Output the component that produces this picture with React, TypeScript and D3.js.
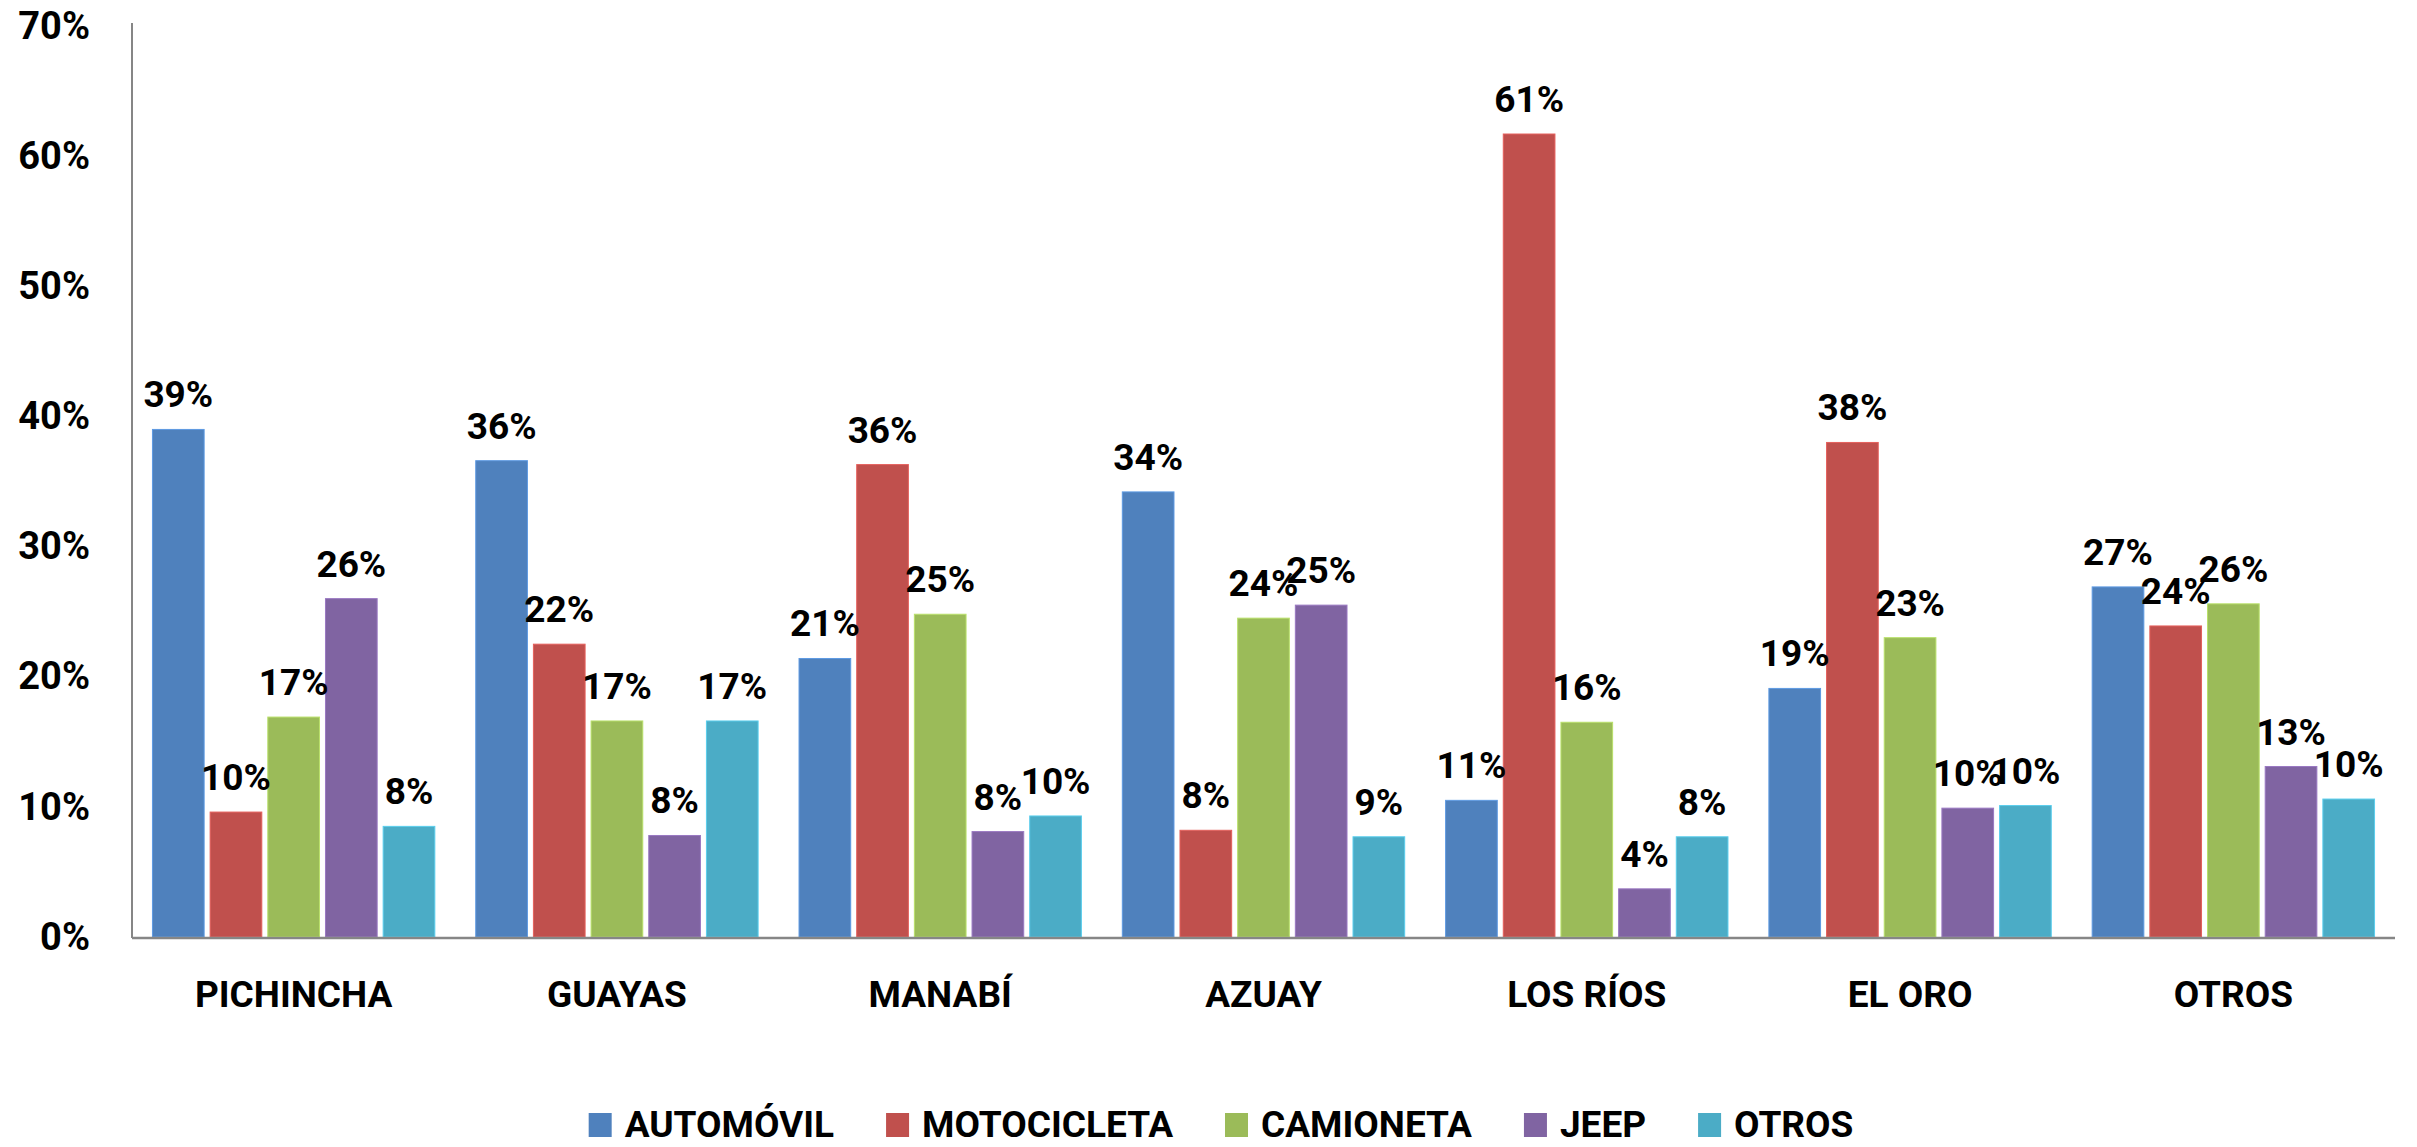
import { useEffect, useRef } from "react"
import * as d3 from "d3"

const W = 2417
const H = 1147

const PROVINCES = ["PICHINCHA", "GUAYAS", "MANABÍ", "AZUAY", "LOS RÍOS", "EL ORO", "OTROS"]
const SERIES = ["AUTOMÓVIL", "MOTOCICLETA", "CAMIONETA", "JEEP", "OTROS"]

// bar heights (percent)
const AUTOMOVIL = [39.0, 36.6, 21.4, 34.2, 10.5, 19.1, 26.9]
const MOTOCICLETA = [9.6, 22.5, 36.3, 8.2, 61.7, 38.0, 23.9]
const CAMIONETA = [16.9, 16.6, 24.8, 24.5, 16.5, 23.0, 25.6]
const JEEP = [26.0, 7.8, 8.1, 25.5, 3.7, 9.9, 13.1]
const OTROS = [8.5, 16.6, 9.3, 7.7, 7.7, 10.1, 10.6]

// data labels as printed on the chart
const AUTOMOVIL_LBL = ["39%", "36%", "21%", "34%", "11%", "19%", "27%"]
const MOTOCICLETA_LBL = ["10%", "22%", "36%", "8%", "61%", "38%", "24%"]
const CAMIONETA_LBL = ["17%", "17%", "25%", "24%", "16%", "23%", "26%"]
const JEEP_LBL = ["26%", "8%", "8%", "25%", "4%", "10%", "13%"]
const OTROS_LBL = ["8%", "17%", "10%", "9%", "8%", "10%", "10%"]

const Y_TICKS = [0, 0.1, 0.2, 0.3, 0.4, 0.5, 0.6, 0.7]

const COLORS = ["#4f81bd", "#c0504d", "#9bbb59", "#8064a2", "#4bacc6"]

const FONT = "Roboto, 'Liberation Sans', sans-serif"

export default function App() {
  const svgRef = useRef<SVGSVGElement>(null)

  useEffect(() => {
    if (!svgRef.current) return
    const svg = d3.select(svgRef.current)
    svg.selectAll("*").remove()

    const values = [AUTOMOVIL, MOTOCICLETA, CAMIONETA, JEEP, OTROS]
    const labels = [AUTOMOVIL_LBL, MOTOCICLETA_LBL, CAMIONETA_LBL, JEEP_LBL, OTROS_LBL]

    const left = 132
    const right = 2395
    const base = 937

    const x0 = d3.scaleBand<string>().domain(PROVINCES).range([left, right]).paddingInner(0.108).paddingOuter(0.054)
    const x1 = d3.scaleBand<string>().domain(SERIES).range([0, x0.bandwidth()]).paddingInner(0.104).paddingOuter(0.052)
    const y = d3.scaleLinear().domain([0, 0.7]).range([base, 26])

    // bars
    const rows = PROVINCES.flatMap((p, i) =>
      SERIES.map((s, j) => ({ p, s, j, v: values[j][i] / 100, label: labels[j][i] }))
    )

    const g = svg.append("g")
    g.selectAll("rect")
      .data(rows)
      .join("rect")
      .attr("x", (d) => x0(d.p)! + x1(d.s)!)
      .attr("y", (d) => y(d.v))
      .attr("width", x1.bandwidth())
      .attr("height", (d) => base - y(d.v))
      .attr("fill", (d) => COLORS[d.j])
      .attr("stroke", (d) => d3.color(COLORS[d.j])!.brighter(0.5).formatHex())
      .attr("stroke-width", 1)

    // data labels
    g.selectAll("text.lbl")
      .data(rows)
      .join("text")
      .attr("class", "lbl")
      .attr("x", (d) => x0(d.p)! + x1(d.s)! + x1.bandwidth() / 2)
      .attr("y", (d) => y(d.v) - 22)
      .attr("text-anchor", "middle")
      .attr("font-family", FONT)
      .attr("font-weight", 700)
      .attr("font-size", 37)
      .attr("fill", "#000")
      .text((d) => d.label)

    // axes lines
    svg.append("line")
      .attr("x1", left).attr("x2", left)
      .attr("y1", 23).attr("y2", base + 1)
      .attr("stroke", "#868686").attr("stroke-width", 2)
    svg.append("line")
      .attr("x1", left).attr("x2", right)
      .attr("y1", base + 1).attr("y2", base + 1)
      .attr("stroke", "#868686").attr("stroke-width", 2.5)

    // y tick labels
    const yAxis = svg.append("g")
      .attr("transform", `translate(${left},0)`)
      .call(d3.axisLeft(y).tickValues(Y_TICKS).tickFormat(d3.format(".0%")).tickSize(0).tickPadding(42))
    yAxis.select(".domain").remove()
    yAxis.selectAll("text")
      .attr("font-family", FONT)
      .attr("font-weight", 700)
      .attr("font-size", 38)
      .attr("fill", "#000")

    // category labels
    svg.append("g")
      .selectAll("text")
      .data(PROVINCES)
      .join("text")
      .attr("x", (d) => x0(d)! + x0.bandwidth() / 2)
      .attr("y", 1007)
      .attr("text-anchor", "middle")
      .attr("font-family", FONT)
      .attr("font-weight", 700)
      .attr("font-size", 37)
      .attr("fill", "#000")
      .text((d) => d)

    // legend
    const leg = svg.append("g")
    const items = leg.selectAll("g").data(SERIES).join("g")
    items.append("rect")
      .attr("width", 23).attr("height", 24)
      .attr("y", -24)
      .attr("fill", (_, i) => COLORS[i])
    items.append("text")
      .attr("x", 36)
      .attr("font-family", FONT)
      .attr("font-weight", 700)
      .attr("font-size", 37)
      .attr("fill", "#000")
      .text((d) => d)
    let cx = 0
    items.each(function () {
      const el = d3.select(this)
      const w = (el.select("text").node() as SVGTextElement).getComputedTextLength()
      el.attr("transform", `translate(${cx},0)`)
      cx += 36 + w + 52
    })
    const total = cx - 52
    leg.attr("transform", `translate(${1221 - total / 2},1137)`)
  }, [])

  return (
    <svg
      ref={svgRef}
      width={W}
      height={H}
      style={{ position: "absolute", left: 0, top: 0, background: "#fff" }}
    />
  )
}
